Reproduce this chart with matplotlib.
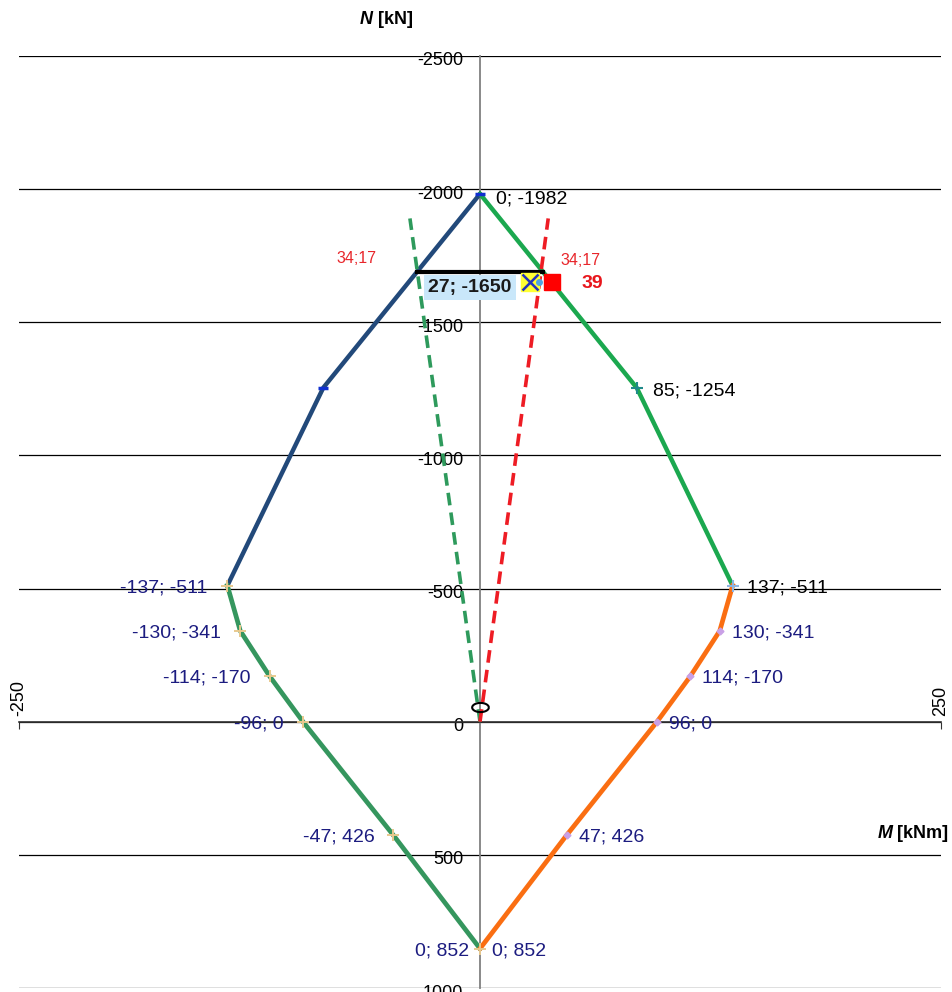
import numpy as np
import matplotlib
matplotlib.use("Agg")
import matplotlib.pyplot as plt
from matplotlib.path import Path
from matplotlib.transforms import ScaledTranslation

plt.rcParams['font.family'] = ['Liberation Sans', 'DejaVu Sans']

# interaction diagram M [kNm] / N [kN]
top_left_m = [0, -85, -137]
top_left_n = [-1982, -1254, -511]
top_right_m = [0, 85, 137]
top_right_n = [-1982, -1254, -511]
low_left_m = [-137, -130, -114, -96, -47, 0]
low_left_n = [-511, -341, -170, 0, 426, 852]
low_right_m = [137, 130, 114, 96, 47, 0]
low_right_n = [-511, -341, -170, 0, 426, 852]

# eccentricity lines from origin
ecc_green_m = [0, -38]
ecc_green_n = [0, -1890]
ecc_red_m = [0, 37]
ecc_red_n = [0, -1890]
level_m = [-34, 34]
level_n = [-1690, -1690]
level_label = "34;17"

load_pt = (27, -1650)
cap_pt = (39, -1650)
cap_label = "39"
mid_pt = (32, -1650)
origin_pt = (0, -55)

y_ticks = [-2500, -2000, -1500, -1000, -500, 0, 500, 1000]
x_ticks = [-250, 250]

navy = "#1C1C80"

fig = plt.figure(figsize=(9.52, 9.92), dpi=100)
ax = fig.add_axes([19 / 952, 4 / 992, 922 / 952, 932 / 992])
ax.set_xlim(-250, 250)
ax.set_ylim(1000, -2500)

for s in ['top', 'right']:
    ax.spines[s].set_visible(False)
ax.spines['left'].set_position(('data', 0))
ax.spines['left'].set_color('#808080')
ax.spines['left'].set_linewidth(1.3)
ax.spines['bottom'].set_position(('data', 0))
ax.spines['bottom'].set_color('#333333')
ax.spines['bottom'].set_linewidth(1.2)

ax.set_yticks(y_ticks)
ax.set_yticklabels([str(v) for v in y_ticks])
ax.tick_params(axis='y', length=0, pad=12, labelsize=13)
shift = ScaledTranslation(0, -3 / 100, fig.dpi_scale_trans)
for tl in ax.get_yticklabels():
    tl.set_transform(tl.get_transform() + shift)
ax.yaxis.grid(True, color='black', linewidth=0.9)
ax.set_axisbelow(True)
ax.set_xticks(x_ticks)
ax.tick_params(axis='x', direction='out', length=5, color='#333333',
               labelbottom=False)
for xv in x_ticks:
    ax.annotate(str(xv), (xv, 0), xytext=(0, 6), textcoords='offset pixels',
                rotation=90, ha='center', va='bottom', fontsize=13)

# failure envelope
ax.plot(top_left_m, top_left_n, color='#22497A', lw=3.2, zorder=3)
ax.plot(top_right_m, top_right_n, color='#1BA84F', lw=3.2, zorder=3)
ax.plot(low_left_m, low_left_n, color='#35965E', lw=3.4, zorder=3)
ax.plot(low_right_m, low_right_n, color='#FA6E12', lw=3.4, zorder=3)

ax.plot(top_left_m[:2], top_left_n[:2], ls='none', marker='_', ms=7,
        mew=2.5, color='#1030D0', zorder=4)
ax.plot(top_right_m[1], top_right_n[1], ls='none', marker='+', ms=9,
        mew=1.5, color='#1F8A8A', zorder=4)
ax.plot(top_right_m[2], top_right_n[2], ls='none', marker='+', ms=9,
        mew=1.5, color='#8DB4E2', zorder=4)
ax.plot(low_left_m, low_left_n, ls='none', marker='+', ms=8, mew=1.4,
        color='#E8C98E', zorder=4)
ax.plot(low_right_m[1:-1], low_right_n[1:-1], ls='none', marker='D', ms=3.5,
        color='#C9A0E6', zorder=4)

# eccentricity lines
ax.plot(ecc_green_m, ecc_green_n, color='#2E9A5C', lw=2.6, ls=(0, (3.5, 2)),
        zorder=3)
ax.plot(ecc_red_m, ecc_red_n, color='#EE1C24', lw=2.6, ls=(0, (3.5, 2)),
        zorder=3)
ax.plot(level_m, level_n, color='black', lw=3, zorder=4)

t = np.linspace(0, 2 * np.pi, 60)
ell = Path(np.column_stack([np.cos(t), 0.55 * np.sin(t)]))
ax.plot(*origin_pt, marker=ell, ms=12, mfc='none', mec='black', mew=1.5,
        zorder=5)

ax.plot(*load_pt, marker='s', ms=13, color='#FFFF33', zorder=5)
ax.plot(*load_pt, marker='x', ms=11, mew=1.8, color='#2233BB', zorder=6)
ax.plot(*mid_pt, marker='o', ms=4, color='#4FA3E0', zorder=5)
ax.plot(*cap_pt, marker='s', ms=11, color='#FF0000', zorder=5)

# labels
def lab(m, n, dx, dy, color, ha):
    ax.annotate(f"{m}; {n}", (m, n), xytext=(dx, dy),
                textcoords='offset pixels', ha=ha, va='center',
                fontsize=14, color=color, zorder=7)

lab(top_right_m[0], top_right_n[0], 16, -5, 'black', 'left')
lab(top_right_m[1], top_right_n[1], 16, -3, 'black', 'left')
lab(top_right_m[2], top_right_n[2], 14, -2, 'black', 'left')
lab(low_left_m[0], low_left_n[0], -20, -2, navy, 'right')
for m, n in zip(low_left_m[1:-1], low_left_n[1:-1]):
    lab(m, n, -19, -2, navy, 'right')
lab(low_left_m[-1], low_left_n[-1], -11, -2, navy, 'right')
for m, n in zip(low_right_m[1:], low_right_n[1:]):
    lab(m, n, 12, -2, navy, 'left')

ax.annotate(level_label, (level_m[0], level_n[0]), xytext=(-61, 13),
            textcoords='offset pixels', ha='center', va='center',
            fontsize=11.5, color='#E8262B')
ax.annotate(level_label, (level_m[1], level_n[1]), xytext=(18, 11),
            textcoords='offset pixels', ha='left', va='center',
            fontsize=11.5, color='#E8262B')
ax.annotate(f"{load_pt[0]}; {load_pt[1]}", load_pt, xytext=(-18, -5),
            textcoords='offset pixels', ha='right', va='center',
            fontsize=14, fontweight='bold', color='#1A1A1A', zorder=7,
            bbox=dict(boxstyle='square,pad=0.22', fc='#C9E7FA', ec='none'))
ax.annotate(cap_label, cap_pt, xytext=(30, -1), textcoords='offset pixels',
            ha='left', va='center', fontsize=14, fontweight='bold',
            color='#E8161C')

# axis titles
fig.text(373 / 952, 1 - 20 / 992, "N", ha='right', va='center', fontsize=13,
         fontweight='bold', fontstyle='italic')
fig.text(378 / 952, 1 - 20 / 992, "[kN]", ha='left', va='center', fontsize=13,
         fontweight='bold')
fig.text(893 / 952, 1 - 833 / 992, "M", ha='right', va='center', fontsize=13,
         fontweight='bold', fontstyle='italic')
fig.text(897 / 952, 1 - 833 / 992, "[kNm]", ha='left', va='center',
         fontsize=13, fontweight='bold')

fig.savefig("out.png", dpi=100)
